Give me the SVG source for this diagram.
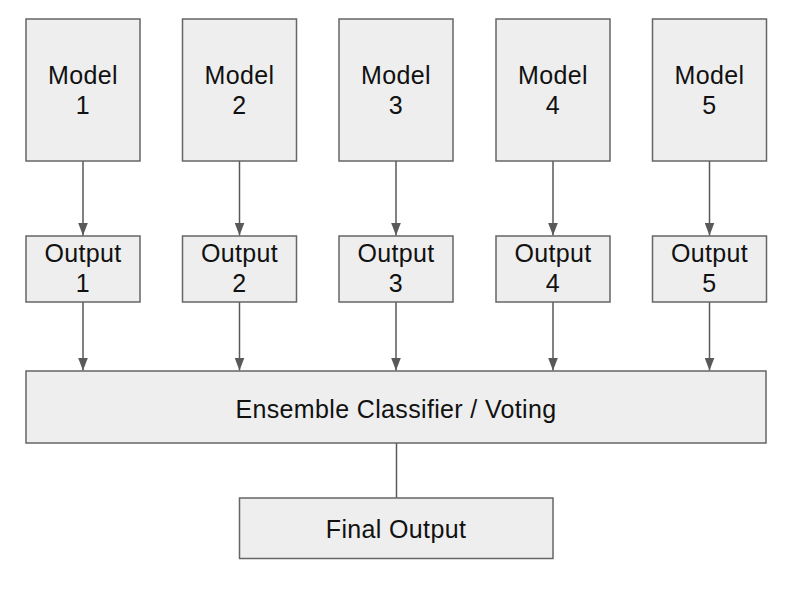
<svg xmlns="http://www.w3.org/2000/svg" width="791" height="598" viewBox="0 0 791 598">
<defs>
<style>
.box{fill:#eeeeee;stroke:#666666;stroke-width:1.5}
.t{font-family:"Liberation Sans",Arial,sans-serif;font-size:25px;letter-spacing:0.35px;fill:#111111;text-anchor:middle}
.c{stroke:#595959;stroke-width:1.5;fill:none}
</style>
<marker id="ah" markerUnits="userSpaceOnUse" markerWidth="13" markerHeight="10" refX="13" refY="5" orient="auto" viewBox="0 0 13 10">
<path d="M0,0 L13,5 L0,10 Z" fill="#595959"/>
</marker>
</defs>
<rect width="791" height="598" fill="#ffffff"/>
<g id="connectors">
<line class="c" x1="83" y1="161" x2="83" y2="235.5" marker-end="url(#ah)"/>
<line class="c" x1="239.5" y1="161" x2="239.5" y2="235.5" marker-end="url(#ah)"/>
<line class="c" x1="396" y1="161" x2="396" y2="235.5" marker-end="url(#ah)"/>
<line class="c" x1="553" y1="161" x2="553" y2="235.5" marker-end="url(#ah)"/>
<line class="c" x1="709.5" y1="161" x2="709.5" y2="235.5" marker-end="url(#ah)"/>
<line class="c" x1="83" y1="302" x2="83" y2="370.5" marker-end="url(#ah)"/>
<line class="c" x1="239.5" y1="302" x2="239.5" y2="370.5" marker-end="url(#ah)"/>
<line class="c" x1="396" y1="302" x2="396" y2="370.5" marker-end="url(#ah)"/>
<line class="c" x1="553" y1="302" x2="553" y2="370.5" marker-end="url(#ah)"/>
<line class="c" x1="709.5" y1="302" x2="709.5" y2="370.5" marker-end="url(#ah)"/>
<line class="c" x1="396.5" y1="443" x2="396.5" y2="498"/>
</g>
<g id="model1"><rect class="box" x="26" y="19" width="114" height="142"/><text class="t" x="83" y="84">Model</text><text class="t" x="83" y="114">1</text></g>
<g id="model2"><rect class="box" x="182.5" y="19" width="114" height="142"/><text class="t" x="239.5" y="84">Model</text><text class="t" x="239.5" y="114">2</text></g>
<g id="model3"><rect class="box" x="339" y="19" width="114" height="142"/><text class="t" x="396" y="84">Model</text><text class="t" x="396" y="114">3</text></g>
<g id="model4"><rect class="box" x="496" y="19" width="114" height="142"/><text class="t" x="553" y="84">Model</text><text class="t" x="553" y="114">4</text></g>
<g id="model5"><rect class="box" x="652.5" y="19" width="114" height="142"/><text class="t" x="709.5" y="84">Model</text><text class="t" x="709.5" y="114">5</text></g>
<g id="output1"><rect class="box" x="26" y="236" width="114" height="66"/><text class="t" x="83" y="262">Output</text><text class="t" x="83" y="292">1</text></g>
<g id="output2"><rect class="box" x="182.5" y="236" width="114" height="66"/><text class="t" x="239.5" y="262">Output</text><text class="t" x="239.5" y="292">2</text></g>
<g id="output3"><rect class="box" x="339" y="236" width="114" height="66"/><text class="t" x="396" y="262">Output</text><text class="t" x="396" y="292">3</text></g>
<g id="output4"><rect class="box" x="496" y="236" width="114" height="66"/><text class="t" x="553" y="262">Output</text><text class="t" x="553" y="292">4</text></g>
<g id="output5"><rect class="box" x="652.5" y="236" width="114" height="66"/><text class="t" x="709.5" y="262">Output</text><text class="t" x="709.5" y="292">5</text></g>
<g id="ensemble"><rect class="box" x="26" y="371" width="740" height="72"/><text class="t" x="396" y="418">Ensemble Classifier / Voting</text></g>
<g id="final"><rect class="box" x="239.5" y="498" width="313.5" height="60.5"/><text class="t" x="396" y="538">Final Output</text></g>
</svg>
